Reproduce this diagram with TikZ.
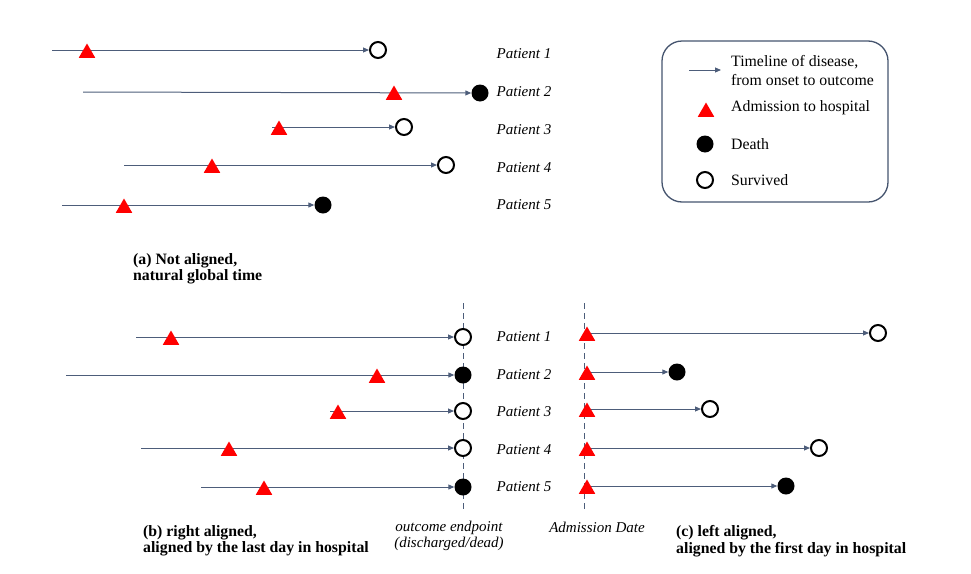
\documentclass[tikz,border=0pt]{standalone}
\usepackage{fontspec}
\setmainfont{Liberation Serif}
\usetikzlibrary{arrows.meta,shapes.geometric}
\definecolor{tline}{HTML}{4D5D7A}

\tikzset{
    timeline/.style={draw=tline, line width=1pt, -{Triangle[length=6pt,width=5pt]}},
    admit/.style={regular polygon, regular polygon sides=3, fill=red, inner sep=0pt, minimum size=19pt},
    dead/.style={circle, fill=black, inner sep=0pt, minimum size=17pt},
    alive/.style={circle, draw=black, line width=2pt, fill=white, inner sep=0pt, minimum size=16pt},
    pat/.style={font=\fontsize{15}{16}\selectfont\itshape},
    txt/.style={font=\fontsize{15.8}{19}\selectfont, inner sep=0pt, anchor=west, align=left},
    caption/.style={font=\fontsize{15.8}{16.5}\selectfont\bfseries, inner sep=0pt, anchor=west, align=left},
    refline/.style={draw=tline, line width=0.9pt, dash pattern=on 6pt off 4pt}
}

\begin{document}
\begin{tikzpicture}[x=1pt, y=-1pt]
        \useasboundingbox (0,0) rectangle (971,573);

        % (a) not aligned
        \node[alive] (a1) at (378,50) {};
        \coordinate (sa1) at (52,50);
        \draw[timeline] (sa1) -- (a1);
        \node[admit] (ta1) at (87,53) {};
        \node[pat] (pa1) at (524,54) {Patient 1};

        \node[dead] (a2) at (480,93) {};
        \coordinate (sa2) at (83,92);
        \draw[timeline] (sa2) -- (a2);
        \node[admit] (ta2) at (394,95) {};
        \node[pat] (pa2) at (524,92) {Patient 2};

        \node[alive] (a3) at (404,127) {};
        \coordinate (sa3) at (272,127);
        \draw[timeline] (sa3) -- (a3);
        \node[admit] (ta3) at (279,130) {};
        \node[pat] (pa3) at (524,130) {Patient 3};

        \node[alive] (a4) at (446,165) {};
        \coordinate (sa4) at (124,165);
        \draw[timeline] (sa4) -- (a4);
        \node[admit] (ta4) at (212,168) {};
        \node[pat] (pa4) at (524,168) {Patient 4};

        \node[dead] (a5) at (323,205) {};
        \coordinate (sa5) at (62,205);
        \draw[timeline] (sa5) -- (a5);
        \node[admit] (ta5) at (124,208) {};
        \node[pat] (pa5) at (524,205) {Patient 5};

        \node[caption] (capa) at (133,269) {(a) Not aligned,\\natural global time};

        % legend
        \node[draw=tline!90!black, line width=1.3pt, rounded corners=20pt, minimum width=226pt, minimum height=161pt] (legend) at (775,121.5) {};
        \coordinate (lg1) at (689,70);
        \coordinate (lg2) at (721,70);
        \draw[timeline] (lg1) -- (lg2);
        \node[txt] (ltime) at (731,71) {Timeline of disease,\\from onset to outcome};
        \node[admit] (ladm) at (706,112) {};
        \node[txt] (ladmt) at (731,108) {Admission to hospital};
        \node[dead] (ldead) at (705,144) {};
        \node[txt] (ldeadt) at (731,144) {Death};
        \node[alive] (lsurv) at (705,180) {};
        \node[txt] (lsurvt) at (731,180) {Survived};

        % (b) right aligned
        \coordinate (bt) at (463,303);
        \coordinate (bb) at (463,510);
        \draw[refline] (bt) -- (bb);

        \node[alive] (b1) at (463,337) {};
        \coordinate (sb1) at (136,337);
        \draw[timeline] (sb1) -- (b1);
        \node[admit] (tb1) at (171,340) {};
        \node[pat] (pb1) at (524,337) {Patient 1};

        \node[dead] (b2) at (463,375) {};
        \coordinate (sb2) at (66,375);
        \draw[timeline] (sb2) -- (b2);
        \node[admit] (tb2) at (377,378) {};
        \node[pat] (pb2) at (524,375) {Patient 2};

        \node[alive] (b3) at (463,411) {};
        \coordinate (sb3) at (330,411);
        \draw[timeline] (sb3) -- (b3);
        \node[admit] (tb3) at (338,414) {};
        \node[pat] (pb3) at (524,412) {Patient 3};

        \node[alive] (b4) at (463,448) {};
        \coordinate (sb4) at (141,448);
        \draw[timeline] (sb4) -- (b4);
        \node[admit] (tb4) at (229,451) {};
        \node[pat] (pb4) at (524,450) {Patient 4};

        \node[dead] (b5) at (463,487) {};
        \coordinate (sb5) at (201,487);
        \draw[timeline] (sb5) -- (b5);
        \node[admit] (tb5) at (264,490) {};
        \node[pat] (pb5) at (524,487) {Patient 5};

        \node[pat, align=center] (endp) at (449,536) {outcome endpoint\\(discharged/dead)};
        \node[caption] (capb) at (143,541) {(b) right aligned,\\aligned by the last day in hospital};

        % (c) left aligned
        \coordinate (ct) at (584,303);
        \coordinate (cb) at (584,510);
        \draw[refline] (ct) -- (cb);

        \node[alive] (c1) at (878,333) {};
        \coordinate (sc1) at (587,333);
        \draw[timeline] (sc1) -- (c1);
        \node[admit] (tc1) at (587,336) {};

        \node[dead] (c2) at (677,372) {};
        \coordinate (sc2) at (587,372);
        \draw[timeline] (sc2) -- (c2);
        \node[admit] (tc2) at (587,375) {};

        \node[alive] (c3) at (710,409) {};
        \coordinate (sc3) at (587,409);
        \draw[timeline] (sc3) -- (c3);
        \node[admit] (tc3) at (587,412) {};

        \node[alive] (c4) at (819,448) {};
        \coordinate (sc4) at (587,448);
        \draw[timeline] (sc4) -- (c4);
        \node[admit] (tc4) at (587,451) {};

        \node[dead] (c5) at (786,486) {};
        \coordinate (sc5) at (587,486);
        \draw[timeline] (sc5) -- (c5);
        \node[admit] (tc5) at (587,489) {};

        \node[pat] (admd) at (597,527) {Admission Date};
        \node[caption] (capc) at (676,541) {(c) left aligned,\\aligned by the first day in hospital};
\end{tikzpicture}
\end{document}
